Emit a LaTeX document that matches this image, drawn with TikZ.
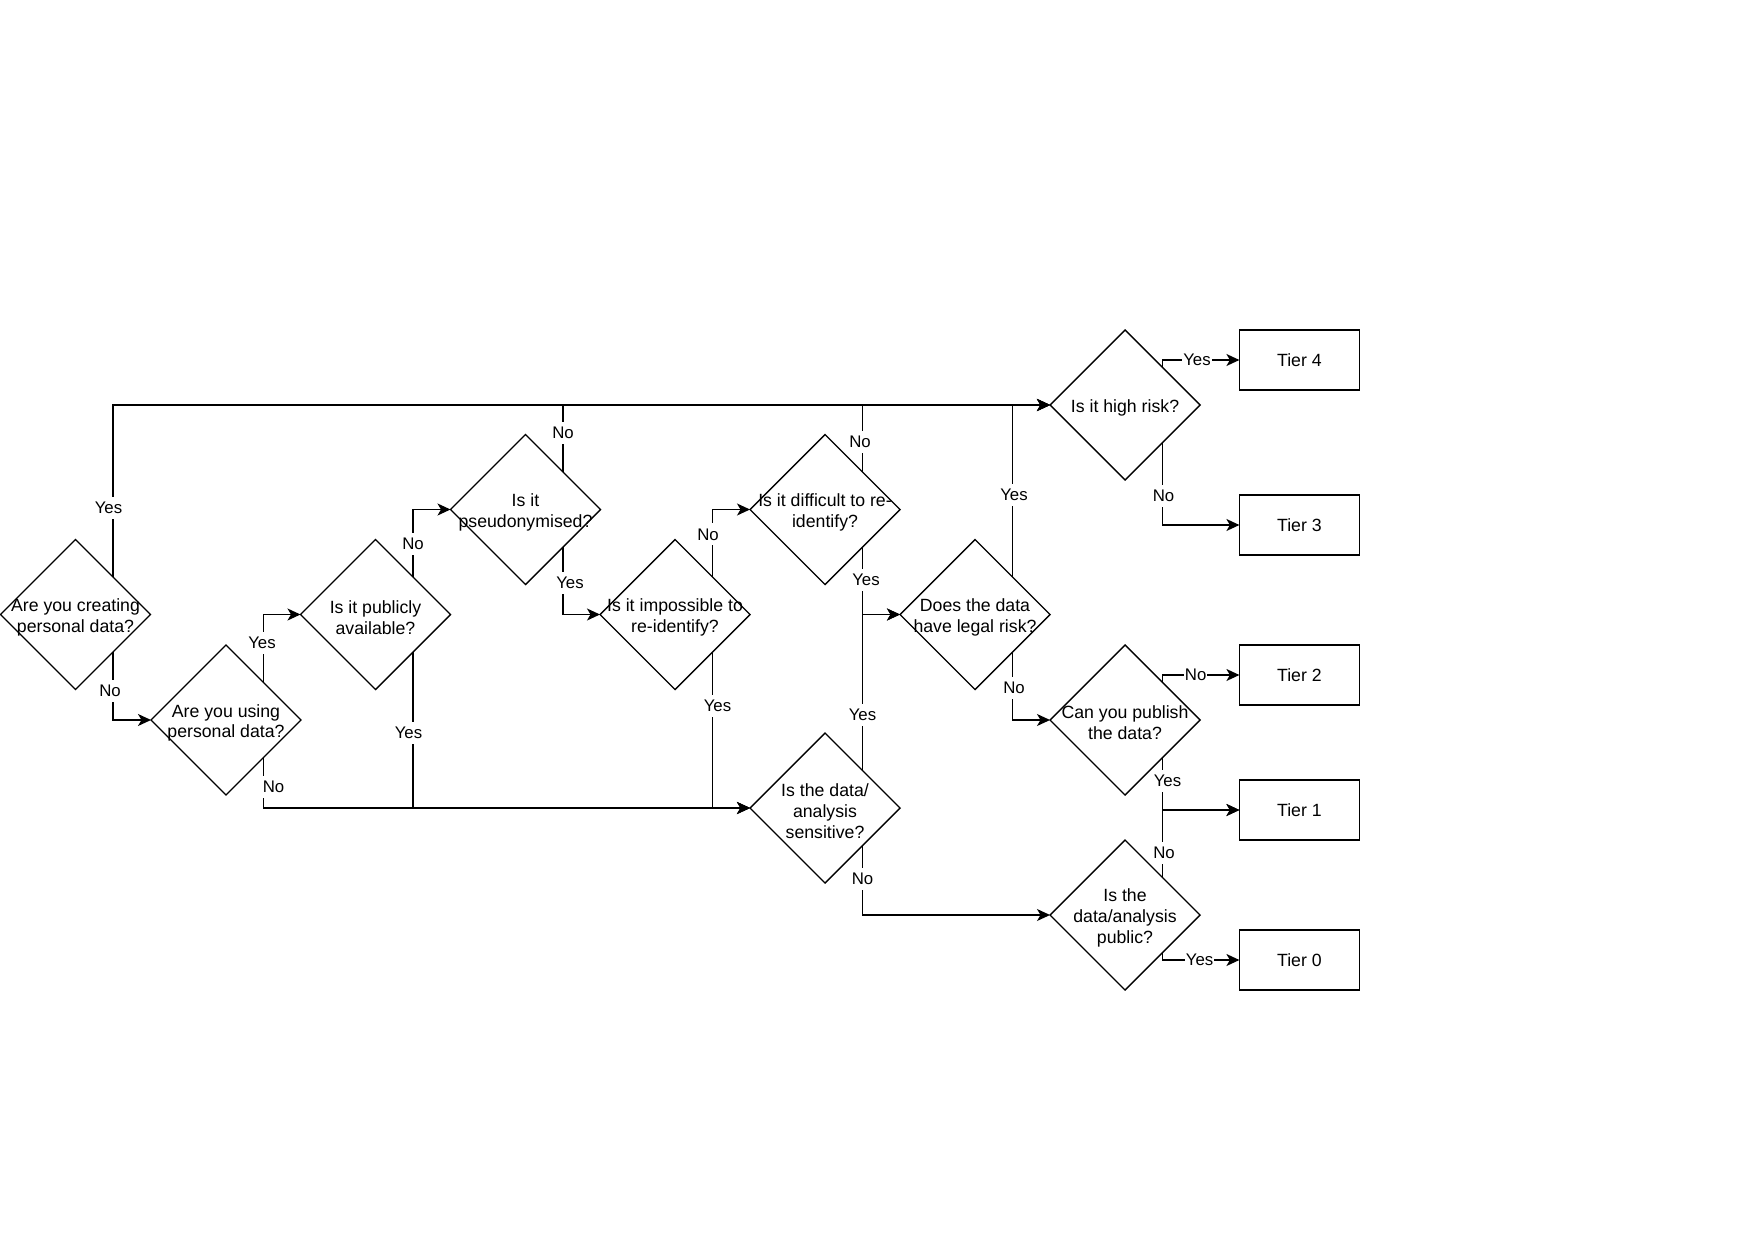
\documentclass[tikz,border=0pt]{standalone}
\usepackage{fontspec}
\setmainfont{Liberation Sans}
\usetikzlibrary{shapes.geometric,arrows.meta}
\begin{document}
\begin{tikzpicture}[x=1pt,y=-1pt,
  dia/.style={diamond, draw, line width=1.4pt, minimum width=150pt, minimum height=150pt, inner sep=0pt, outer sep=0pt},
  qtxt/.style={align=center, font=\fontsize{17.7}{20.7}\selectfont, inner sep=0pt, yshift=-3pt},
  tier/.style={draw, line width=1.4pt, minimum width=120pt, minimum height=60pt, inner sep=0pt, outer sep=0pt, font=\fontsize{17.7}{20.7}\selectfont},
  arr/.style={line width=1.4pt, -{Stealth[length=13pt,width=12pt,inset=3.5pt]}},
  lbl/.style={fill=white, font=\fontsize{16.8}{19}\selectfont, inner xsep=1pt, inner ysep=0pt, minimum height=22pt}
]
\fill[white] (0,0) rectangle (1753,1241);
\useasboundingbox (0,0) rectangle (1753,1241);

% decision diamonds
\node[dia] (d1)  at (75.5,614.5) {};
\node[dia] (d2)  at (226,720)    {};
\node[dia] (d3)  at (375.5,614.5){};
\node[dia] (d4)  at (525.5,509.5){};
\node[dia] (d5)  at (675,614.5)  {};
\node[dia] (d6)  at (825,509.5)  {};
\node[dia] (d7)  at (825,808)    {};
\node[dia] (d8)  at (975,614.5)  {};
\node[dia] (d9)  at (1125,405)   {};
\node[dia] (d10) at (1125,720)   {};
\node[dia] (d11) at (1125,915)   {};

% questions
\node[qtxt] (q1)  at (d1.center)  {Are you creating\\personal data?};
\node[qtxt] (q2)  at (d2.center)  {Are you using\\personal data?};
\node[qtxt] (q3)  at (d3.center)  {Is it publicly\\available?};
\node[qtxt] (q4)  at (d4.center)  {Is it\\pseudonymised?};
\node[qtxt] (q5)  at (d5.center)  {Is it impossible to\\re-identify?};
\node[qtxt] (q6)  at (d6.center)  {Is it difficult to re-\\identify?};
\node[qtxt] (q7)  at (d7.center)  {Is the data/\\analysis\\sensitive?};
\node[qtxt] (q8)  at (d8.center)  {Does the data\\have legal risk?};
\node[qtxt] (q9)  at (d9.center)  {Is it high risk?};
\node[qtxt] (q10) at (d10.center) {Can you publish\\the data?};
\node[qtxt] (q11) at (d11.center) {Is the\\data/analysis\\public?};

% outcome tiers
\node[tier] (t4) at (1299.4,360) {Tier 4};
\node[tier] (t3) at (1299.4,525) {Tier 3};
\node[tier] (t2) at (1299.4,675) {Tier 2};
\node[tier] (t1) at (1299.4,810) {Tier 1};
\node[tier] (t0) at (1299.4,960) {Tier 0};

% decision branches
\draw[arr] (d1.north east) |- node[lbl,pos=0.201,xshift=-4.5pt] (l1y) {Yes} (d9.west);
\draw[arr] (d1.south east) |- node[lbl,pos=0.285,xshift=-3pt] (l1n) {No} (d2.west);
\draw[arr] (d2.north east) |- node[lbl,pos=0.293,xshift=-1.5pt] (l2y) {Yes} (d3.west);
\draw[arr] (d2.south east) |- node[lbl,pos=0.292,xshift=10pt] (l2n) {No} (d7.west);
\draw[arr] (d3.north east) |- node[lbl,pos=0.248] (l3n) {No} (d4.west);
\draw[arr] (d3.south east) |- node[lbl,pos=0.259,xshift=-4.5pt] (l3y) {Yes} (d7.west);
\draw[arr] (d4.north east) |- node[lbl,pos=0.293] (l4n) {No} (d9.west);
\draw[arr] (d4.south east) |- node[lbl,pos=0.263,xshift=7pt] (l4y) {Yes} (d5.west);
\draw[arr] (d5.north east) |- node[lbl,pos=0.315,xshift=-4.5pt] (l5n) {No} (d6.west);
\draw[arr] (d5.south east) |- node[lbl,pos=0.172,xshift=5pt] (l5y) {Yes} (d7.west);
\draw[arr] (d6.north east) |- node[lbl,pos=0.226,xshift=-2.5pt] (l6n) {No} (d9.west);
\draw[arr] (d6.south east) |- node[lbl,pos=0.241,xshift=3.5pt] (l6y) {Yes} (d8.west);
\draw[arr] (d7.north east) |- node[lbl,pos=0.178] (l7y) {Yes} (d8.west);
\draw[arr] (d7.south east) |- node[lbl,pos=0.241] (l7n) {No} (d11.west);
\draw[arr] (d8.north east) |- node[lbl,pos=0.239,xshift=1.5pt] (l8y) {Yes} (d9.west);
\draw[arr] (d8.south east) |- node[lbl,pos=0.263,xshift=1.5pt] (l8n) {No} (d10.west);
\draw[arr] (d9.north east) |- node[lbl,pos=0.724] (l9y) {Yes} (t4.west);
\draw[arr] (d9.south east) |- node[lbl,pos=0.324,xshift=1pt] (l9n) {No} (t3.west);
\draw[arr] (d10.north east) |- node[lbl,pos=0.716] (l10n) {No} (t2.west);
\draw[arr] (d10.south east) |- node[lbl,pos=0.224,xshift=5pt] (l10y) {Yes} (t1.west);
\draw[arr] (d11.north east) |- node[lbl,pos=0.181,xshift=1.5pt] (l11n) {No} (t1.west);
\draw[arr] (d11.south east) |- node[lbl,pos=0.741] (l11y) {Yes} (t0.west);
\end{tikzpicture}
\end{document}
